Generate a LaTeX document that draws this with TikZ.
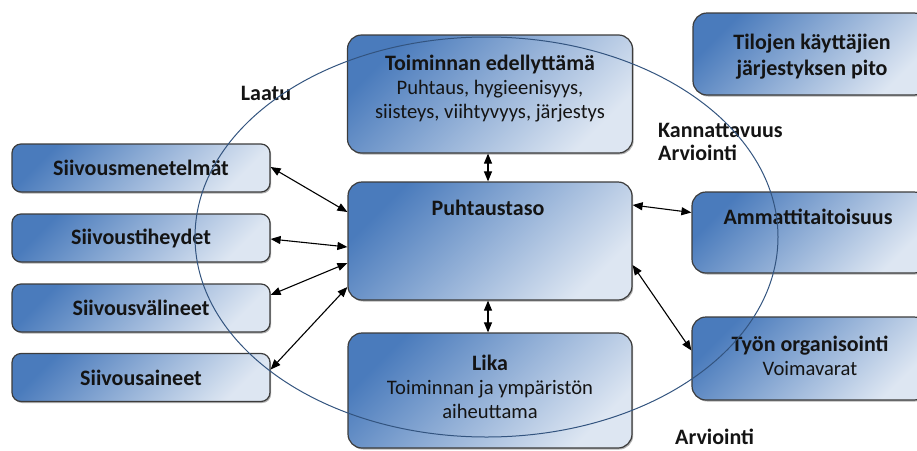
\documentclass[tikz,border=0pt]{standalone}
\usepackage{fontspec}
\setmainfont{Carlito}
\usetikzlibrary{arrows.meta,calc,shadows}

\definecolor{boxdark}{HTML}{4A7BBC}
\definecolor{boxlight}{HTML}{DDE6F2}
\definecolor{boxline}{HTML}{3C3C3C}
\definecolor{ringcol}{HTML}{33547F}
\definecolor{inkcol}{HTML}{141414}

\newcommand{\hd}[1]{{\fontsize{22}{24}\selectfont\bfseries #1}}

\tikzset{
  box/.style={draw=boxline, line width=1.2pt, rounded corners=#1,
    top color=boxdark, bottom color=boxlight, shading angle=45,
    inner sep=0pt,
    drop shadow={shadow xshift=1.2pt, shadow yshift=-1.5pt, fill=black, opacity=0.3}},
  box/.default=14pt,
  txt/.style={text=inkcol, align=center, inner sep=0pt,
    font=\fontsize{20.6}{24}\selectfont},
  btxt/.style={txt, font=\fontsize{22}{26}\selectfont\bfseries},
  conn/.style={line width=1.1pt, draw=black,
    {Triangle[length=10pt,width=8pt]}-{Triangle[length=10pt,width=8pt]}},
}

\begin{document}
\begin{tikzpicture}[x=1pt,y=-1pt]
\useasboundingbox (0,0) rectangle (917,450);
\clip (0,0) rectangle (917,450);

% central column
\node[box, minimum width=285pt, minimum height=118pt] (tp) at (490,94) {};
\node[box, minimum width=284pt, minimum height=118pt] (pt) at (490,241) {};
\node[box, minimum width=284pt, minimum height=115pt] (lk) at (490,390.5) {};

% right column
\node[box, minimum width=235pt, minimum height=82pt] (tj) at (810.5,54) {};
\node[box, minimum width=236pt, minimum height=81pt] (am) at (810,232.5) {};
\node[box, minimum width=236pt, minimum height=83pt] (ty) at (810,358.5) {};

% left column
\node[box=9pt, minimum width=258pt, minimum height=48pt] (s1) at (141,168) {};
\node[box=9pt, minimum width=258pt, minimum height=48pt] (s2) at (141,238) {};
\node[box=9pt, minimum width=258pt, minimum height=48pt] (s3) at (141,308) {};
\node[box=9pt, minimum width=258pt, minimum height=48pt] (s4) at (141,377.5) {};

% box texts
\node[txt] (tpt) at (490,89) {\hd{Toiminnan edellyttämä}\\Puhtaus, hygieenisyys,\\siisteys, viihtyvyys, järjestys};
\node[btxt] (ptt) at (488,208) {Puhtaustaso};
\node[txt] (lkt) at (490,387) {\hd{Lika}\\Toiminnan ja ympäristön\\aiheuttama};
\node[btxt] (tjt) at (812,56.5) {Tilojen käyttäjien\\järjestyksen pito};
\node[btxt] (amt) at (808,217) {Ammattitaitoisuus};
\node[txt] (tyt) at (810,355.5) {\hd{Työn organisointi}\\Voimavarat};
\node[btxt] (s1t) at (141,168) {Siivousmenetelmät};
\node[btxt] (s2t) at (141,238) {Siivoustiheydet};
\node[btxt] (s3t) at (141,308) {Siivousvälineet};
\node[btxt] (s4t) at (141,377.5) {Siivousaineet};

% free labels
\node[btxt] (laatu) at (266,93) {Laatu};
\node[btxt, anchor=west] (kann) at (658,130) {Kannattavuus};
\node[btxt, anchor=west] (arv1) at (658,153) {Arviointi};
\node[btxt, anchor=west] (arv2) at (675,437) {Arviointi};

% quality ring
\draw[ringcol, line width=1pt] (486.5,237) ellipse [x radius=291.5, y radius=200];

% connectors
\draw[conn] ($(tp.south)+(-2,0)$) -- ($(pt.north)+(-2,0)$);
\draw[conn] ($(pt.south)+(-2,0)$) -- ($(lk.north)+(-2,0)$);
\draw[conn] ($(s1.east)+(0,-1)$) -- ($(pt.west)+(0,-29)$);
\draw[conn] ($(s2.east)+(0,1)$) -- ($(pt.west)+(0,6)$);
\draw[conn] ($(s3.east)+(0,-13)$) -- ($(pt.west)+(0,22)$);
\draw[conn] ($(s4.east)+(0,-8)$) -- ($(pt.west)+(0,46)$);
\draw[conn] ($(pt.east)+(0,-36)$) -- ($(am.west)+(0,-20)$);
\draw[conn] ($(pt.east)+(0,24)$) -- ($(ty.west)+(0,-8)$);
\end{tikzpicture}
\end{document}
